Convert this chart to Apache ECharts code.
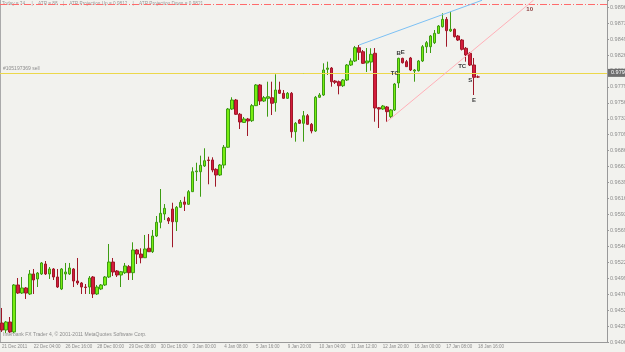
<!DOCTYPE html>
<html lang="en">
  <head>
    <meta charset="UTF-8" />
    <title>H4 chart</title>
    <script src="https://cdn.jsdelivr.net/npm/echarts@6.0.0/dist/echarts.min.js"></script>
    <style>
      html, body { margin: 0; padding: 0; background: #f2f2ee; }
    </style>
  </head>

  <body>
    <div id="main" style="width: 625px; height: 352px"></div>
    <script type="text/javascript">
      // 4H bars, 21 Dec 2011 -> 18 Jan 2012
      const opens = [
        0.94338, 0.94236, 0.94353, 0.94207, 0.94895, 0.94777, 0.94851, 0.94763, 0.95056, 0.94983,
        0.95056, 0.95202, 0.95056, 0.95129, 0.95012, 0.94836, 0.95056, 0.95056, 0.95129, 0.94953,
        0.94924, 0.94865, 0.94865, 0.95012, 0.94763, 0.94836, 0.94895, 0.95012, 0.95231, 0.95100,
        0.95041, 0.95075, 0.95163, 0.95075, 0.95407, 0.95348, 0.95294, 0.95432, 0.95382, 0.95612,
        0.95813, 0.95934, 0.95871, 0.96007, 0.95821, 0.96032, 0.96110, 0.96076, 0.96261, 0.96553,
        0.96553, 0.96637, 0.96725, 0.96725, 0.96588, 0.96505, 0.96651, 0.96911, 0.97471, 0.97603,
        0.97394, 0.97274, 0.97325, 0.97300, 0.97520, 0.97823, 0.97588, 0.97628, 0.97637, 0.97564,
        0.97749, 0.97701, 0.97628, 0.97701, 0.97139, 0.97310, 0.97262, 0.97373, 0.97247, 0.97149,
        0.97643, 0.97676, 0.98052, 0.98071, 0.97881, 0.97871, 0.97812, 0.97896, 0.98115, 0.98174,
        0.98369, 0.98310, 0.98145, 0.98159, 0.98287, 0.97490, 0.97471, 0.97501, 0.97359, 0.97457,
        0.97852, 0.98213, 0.98164, 0.98218, 0.98027, 0.98032, 0.98174, 0.98383, 0.98383, 0.98442,
        0.98579, 0.98676, 0.98784, 0.98613, 0.98638, 0.98540, 0.98481, 0.98360, 0.98287, 0.98115,
        0.97941
      ];
      const closes = [
        0.94236, 0.94353, 0.94207, 0.94895, 0.94777, 0.94851, 0.94777, 0.95056, 0.94968, 0.95070,
        0.95217, 0.95056, 0.95129, 0.95012, 0.94865, 0.95129, 0.95085, 0.95143, 0.94953, 0.94924,
        0.94865, 0.94858, 0.94997, 0.94763, 0.94865, 0.94895, 0.95012, 0.95231, 0.95085, 0.95041,
        0.95089, 0.95173, 0.95075, 0.95407, 0.95348, 0.95294, 0.95422, 0.95382, 0.95612, 0.95813,
        0.95944, 0.96017, 0.95832, 0.95821, 0.96032, 0.96105, 0.96076, 0.96261, 0.96553, 0.96564,
        0.96647, 0.96714, 0.96717, 0.96578, 0.96505, 0.96651, 0.96911, 0.97471, 0.97603, 0.97394,
        0.97281, 0.97325, 0.97296, 0.97520, 0.97823, 0.97588, 0.97637, 0.97651, 0.97555, 0.97749,
        0.97701, 0.97628, 0.97701, 0.97139, 0.97262, 0.97262, 0.97373, 0.97247, 0.97149, 0.97643,
        0.97676, 0.98042, 0.98071, 0.97871, 0.97862, 0.97812, 0.97896, 0.98115, 0.98174, 0.98369,
        0.98301, 0.98140, 0.98174, 0.98272, 0.97486, 0.97471, 0.97515, 0.97432, 0.97457, 0.97837,
        0.98213, 0.98149, 0.98091, 0.98042, 0.98042, 0.98174, 0.98383, 0.98442, 0.98540, 0.98579,
        0.98686, 0.98784, 0.98618, 0.98638, 0.98530, 0.98481, 0.98345, 0.98262, 0.98115, 0.97935,
        0.97940
      ];
      const lows = [
        0.94207, 0.94192, 0.94192, 0.94192, 0.94763, 0.94763, 0.94690, 0.94748, 0.94763, 0.94865,
        0.95041, 0.95041, 0.94983, 0.94968, 0.94851, 0.94821, 0.94968, 0.95041, 0.94865, 0.94895,
        0.94763, 0.94763, 0.94763, 0.94704, 0.94748, 0.94821, 0.94880, 0.94997, 0.95026, 0.95012,
        0.94865, 0.95056, 0.94968, 0.94968, 0.95202, 0.95212, 0.95290, 0.95378, 0.95363, 0.95597,
        0.95725, 0.95846, 0.95788, 0.95447, 0.95685, 0.96022, 0.95978, 0.96066, 0.96256, 0.96417,
        0.96187, 0.96622, 0.96369, 0.96545, 0.96334, 0.96490, 0.96603, 0.96900, 0.97457, 0.97383,
        0.97178, 0.97266, 0.97076, 0.97281, 0.97515, 0.97530, 0.97574, 0.97359, 0.97383, 0.97432,
        0.97691, 0.97618, 0.97618, 0.97051, 0.96993, 0.97252, 0.96993, 0.97237, 0.97115, 0.97135,
        0.97632, 0.97662, 0.97969, 0.97798, 0.97837, 0.97686, 0.97793, 0.97881, 0.98101, 0.98159,
        0.98189, 0.98130, 0.98013, 0.98032, 0.97285, 0.97193, 0.97457, 0.97285, 0.97340, 0.97442,
        0.97779, 0.98137, 0.98086, 0.98027, 0.97871, 0.98020, 0.98159, 0.98291, 0.98291, 0.98423,
        0.98569, 0.98664, 0.98383, 0.98599, 0.98518, 0.98467, 0.98328, 0.98164, 0.98101, 0.97676,
        0.97925
      ];
      const highs = [
        0.94558, 0.94368, 0.94426, 0.94909, 0.94997, 0.95012, 0.94865, 0.95114, 0.95129, 0.95085,
        0.95231, 0.95246, 0.95158, 0.95143, 0.95129, 0.95143, 0.95217, 0.95217, 0.95143, 0.95290,
        0.94938, 0.94909, 0.95026, 0.95026, 0.94895, 0.94909, 0.95026, 0.95495, 0.95290, 0.95114,
        0.95100, 0.95217, 0.95187, 0.95520, 0.95422, 0.95432, 0.95627, 0.95641, 0.95700, 0.95905,
        0.96300, 0.96080, 0.95890, 0.96099, 0.96051, 0.96139, 0.96187, 0.96285, 0.96618, 0.96685,
        0.96788, 0.96896, 0.96773, 0.96764, 0.96603, 0.96666, 0.96944, 0.97486, 0.97643, 0.97618,
        0.97413, 0.97354, 0.97340, 0.97544, 0.97837, 0.97837, 0.97662, 0.97871, 0.97871, 0.97979,
        0.97871, 0.97749, 0.97720, 0.97720, 0.97281, 0.97325, 0.97442, 0.97398, 0.97266, 0.97662,
        0.97705, 0.98140, 0.98164, 0.98086, 0.97896, 0.97888, 0.97910, 0.98130, 0.98213, 0.98394,
        0.98408, 0.98335, 0.98364, 0.98360, 0.98364, 0.97501, 0.97530, 0.97515, 0.97471, 0.97852,
        0.98222, 0.98222, 0.98189, 0.98233, 0.98057, 0.98189, 0.98408, 0.98467, 0.98555, 0.98628,
        0.98701, 0.98872, 0.98818, 0.98896, 0.98650, 0.98555, 0.98496, 0.98379, 0.98306, 0.98218,
        0.97962
      ];

      // one time label every 8 bars
      const timeLabels = [
        "21 Dec 2011", "22 Dec 04:00", "26 Dec 16:00", "28 Dec 00:00", "29 Dec 08:00",
        "30 Dec 16:00", "3 Jan 00:00", "4 Jan 08:00", "5 Jan 16:00", "9 Jan 20:00",
        "10 Jan 04:00", "11 Jan 12:00", "12 Jan 20:00", "16 Jan 00:00", "17 Jan 08:00",
        "18 Jan 16:00"
      ];
      const priceLabels = [
        "0.94060", "0.94290", "0.94525", "0.94760", "0.94995", "0.95225", "0.95460", "0.95695",
        "0.95930", "0.96160", "0.96395", "0.96630", "0.96860", "0.97095", "0.97330", "0.97560",
        "0.97790", "0.98030", "0.98260", "0.98495", "0.98730", "0.98965"
      ];

      // levels and drawn objects
      const bidPrice = 0.9794;
      const orderPrice = 0.9792;
      const atrLevel = 0.99038;
      const blueLine = { bars: [90, 121], prices: [0.98408, 0.99063] };
      const pinkLine = { bars: [97, 134], prices: [0.97285, 0.99066] };
      const marks = ["B", "E", "TC", "TC", "S", "E"];
      const markBars = [100, 101, 99, 116, 118, 119];
      const markPrices = [0.98287, 0.98301, 0.97994, 0.98101, 0.97886, 0.97603];

      const slots = 153; // visible bar slots incl. empty space on right
      const labelEvery = 8;
      const yStep = 0.002334;
      const yFirst = 403; // 403 * yStep = first price label
      const yMin = +(yFirst * yStep).toFixed(6);
      const yMax = 0.99067;

      const categories = [];
      for (let i = 0; i < slots; i++) categories.push(String(i));
      const candles = opens.map((o, i) => [o, closes[i], lows[i], highs[i]]);

      const showLabel = (i) => i % labelEvery === 0 && i / labelEvery < timeLabels.length;
      const font = "Liberation Sans";
      const grey = "#8c8c8c";

      let myChart = echarts.init(document.getElementById("main"));
      let options = {
        animation: false,
        backgroundColor: "#f2f2ee",
        textStyle: { fontFamily: font },
        grid: { left: 0, right: 18, top: 0, bottom: 10, containLabel: false, outerBoundsMode: "none" },
        xAxis: {
          type: "category",
          data: categories,
          boundaryGap: true,
          axisLine: { lineStyle: { color: "#999" } },
          axisTick: { interval: showLabel, alignWithLabel: true, length: 2, lineStyle: { color: "#999" } },
          axisLabel: {
            interval: showLabel,
            formatter: (v, i) => timeLabels[i / labelEvery] || "",
            align: "left",
            margin: 2,
            fontSize: 4.5,
            color: grey,
          },
          splitLine: { show: false },
        },
        yAxis: [
          {
            type: "value",
            position: "right",
            min: yMin,
            max: yMax,
            interval: yStep,
            axisLine: { show: true, lineStyle: { color: "#999" } },
            axisTick: { show: true, length: 2, lineStyle: { color: "#999" } },
            axisLabel: {
              margin: 3,
              fontSize: 5.5,
              color: grey,
              formatter: (v) => {
                const k = Math.round(v / yStep);
                if (Math.abs(v - k * yStep) > yStep * 0.05) return "";
                return priceLabels[k - yFirst] || "";
              },
            },
            splitLine: { show: false },
          },
          {
            type: "value",
            position: "left",
            min: yMin,
            max: yMax,
            axisLine: { show: true, lineStyle: { color: "#aaa" } },
            axisTick: { show: false },
            axisLabel: { show: false },
            splitLine: { show: false },
          },
        ],
        graphic: [
          {
            type: "text",
            left: 2,
            top: 1,
            style: {
              text: "Today = 74     |    ATR = 88    |    ATR Projection Up = 0.9812    |    ATR Projection Down = 0.9821",
              fill: "#9a9a9a",
              font: "4.7px " + font,
            },
          },
          {
            type: "text",
            left: 3,
            top: 332,
            style: {
              text: "Interbank FX Trader 4, \u00a9 2001-2011 MetaQuotes Software Corp.",
              fill: "#8c8c8c",
              font: "5px " + font,
            },
          },
        ],
        series: [
          {
            name: "price",
            type: "candlestick",
            data: candles,
            barWidth: 3,
            itemStyle: {
              color: "#77ee11",
              color0: "#d41c3c",
              borderColor: "#3d9c12",
              borderColor0: "#a01828",
              borderWidth: 1,
            },
            markLine: {
              silent: true,
              symbol: "none",
              animation: false,
              data: [
                {
                  yAxis: atrLevel,
                  label: { show: false },
                  lineStyle: { color: "#ff6b6b", width: 1, type: [7, 2, 1, 2] },
                },
                {
                  yAxis: orderPrice,
                  label: {
                    show: true,
                    position: "insideStartTop",
                    distance: [3, 2],
                    formatter: "#105197369 sell",
                    fontSize: 5,
                    color: grey,
                  },
                  lineStyle: { color: "#5fd84a", width: 1, type: [6, 3, 2, 3] },
                },
                {
                  yAxis: bidPrice,
                  label: {
                    show: true,
                    position: "end",
                    distance: 1,
                    formatter: bidPrice.toFixed(5),
                    fontSize: 5.5,
                    color: "#fff",
                    backgroundColor: "#6e6e6e",
                    padding: [1, 3],
                  },
                  lineStyle: { color: "#ecd84a", width: 1, type: "solid" },
                },
                [
                  { coord: [blueLine.bars[0], blueLine.prices[0]] },
                  { coord: [blueLine.bars[1], blueLine.prices[1]] },
                ].map((p) => Object.assign(p, { lineStyle: { color: "#7cc0f4", width: 1, type: "solid" }, label: { show: false } })),
                [
                  { coord: [pinkLine.bars[0], pinkLine.prices[0]] },
                  { coord: [pinkLine.bars[1], pinkLine.prices[1]] },
                ].map((p) => Object.assign(p, { lineStyle: { color: "#ffb0b8", width: 1, type: "solid" }, label: { show: false } })),
              ],
            },
            markPoint: {
              silent: true,
              animation: false,
              symbol: "circle",
              symbolSize: 1,
              itemStyle: { color: "rgba(0,0,0,0)" },
              label: { show: true, position: "inside", fontSize: 6, fontWeight: "bold", color: "#3a3a3a" },
              data: marks
                .map((m, i) => ({ coord: [markBars[i], markPrices[i]], label: { formatter: m } }))
                .concat([{ coord: [133, 0.98935], label: { formatter: "10", color: "#8a3a3a" } }]),
            },
          },
        ],
      };
      myChart.setOption(options);
    </script>
  </body>
</html>
